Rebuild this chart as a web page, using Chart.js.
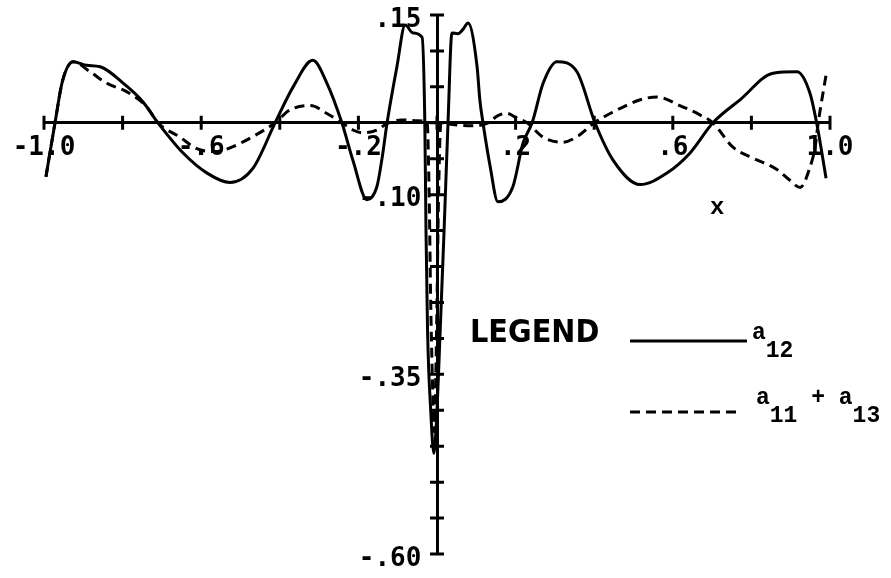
<!DOCTYPE html>
<html>
<head>
<meta charset="utf-8">
<script src="https://cdn.jsdelivr.net/npm/chart.js@4.4.1/dist/chart.umd.min.js"></script>
<style>
  body { margin: 0; background: #fff; }
  #wrap { width: 891px; height: 578px; }
</style>
</head>
<body>
<div id="wrap"><canvas id="coeffChart" width="891" height="578"></canvas></div>
<script>
// a12 curve
const a12X = [-0.995, -0.972, -0.953, -0.926, -0.891, -0.857, -0.794, -0.748, -0.710, -0.646,
  -0.585, -0.527, -0.468, -0.412, -0.366, -0.316, -0.280, -0.242, -0.214, -0.178,
  -0.153, -0.140, -0.127, -0.102, -0.081, -0.061, -0.038, -0.031, -0.028, -0.024,
  -0.016, -0.008, 0.000, 0.008, 0.018, 0.028, 0.038, 0.053, 0.066, 0.079,
  0.102, 0.109, 0.117, 0.135, 0.155, 0.193, 0.219, 0.242, 0.270, 0.305,
  0.356, 0.402, 0.448, 0.517, 0.585, 0.644, 0.702, 0.771, 0.855, 0.916,
  0.949, 0.967, 0.990];
const a12Y = [-0.075, 0.000, 0.058, 0.085, 0.080, 0.078, 0.053, 0.029, 0.000, -0.042,
  -0.070, -0.083, -0.063, 0.000, 0.050, 0.087, 0.055, 0.000, -0.052, -0.107,
  -0.089, -0.050, 0.000, 0.078, 0.136, 0.125, 0.119, 0.000, -0.150, -0.290,
  -0.400, -0.460, -0.400, -0.290, -0.150, 0.000, 0.125, 0.124, 0.130, 0.139,
  0.078, 0.032, 0.000, -0.060, -0.110, -0.089, -0.028, 0.000, 0.055, 0.085,
  0.071, 0.000, -0.052, -0.086, -0.070, -0.042, 0.000, 0.032, 0.069, 0.071,
  0.041, -0.003, -0.077];

// a11 + a13 curve
const sumX = [-0.995, -0.972, -0.953, -0.926, -0.883, -0.840, -0.789, -0.738, -0.710, -0.654,
  -0.611, -0.560, -0.519, -0.468, -0.412, -0.374, -0.323, -0.280, -0.242, -0.214,
  -0.190, -0.153, -0.127, -0.090, -0.050, -0.025, -0.020, -0.016, -0.012, -0.007,
  -0.003, 0.000, 0.004, 0.010, 0.020, 0.050, 0.100, 0.130, 0.155, 0.178,
  0.205, 0.229, 0.270, 0.320, 0.360, 0.400, 0.448, 0.517, 0.560, 0.618,
  0.669, 0.702, 0.753, 0.804, 0.865, 0.898, 0.924, 0.949, 0.962, 0.970,
  0.992];
const sumY = [-0.075, 0.000, 0.058, 0.085, 0.071, 0.055, 0.043, 0.022, 0.000, -0.020,
  -0.036, -0.040, -0.033, -0.019, 0.000, 0.018, 0.024, 0.013, 0.000, -0.010,
  -0.014, -0.010, -0.001, 0.004, 0.003, 0.000, -0.100, -0.250, -0.350, -0.430,
  -0.350, -0.250, -0.100, 0.000, -0.001, -0.003, -0.004, 0.000, 0.010, 0.013,
  0.006, 0.000, -0.020, -0.027, -0.018, 0.000, 0.015, 0.032, 0.036, 0.024,
  0.011, 0.000, -0.034, -0.049, -0.065, -0.080, -0.090, -0.062, -0.034, 0.000,
  0.073];

// axis labels (value -> text); the y ones carry a trailing gap before the axis
const xTickLabels = { "-1": "-1.0", "-0.6": "-.6", "-0.2": "-.2", "0.2": ".2", "0.6": ".6", "1": "1.0" };
const yTickLabels = { "0.15": ".15 ", "-0.1": "-.10 ", "-0.35": "-.35 ", "-0.6": "-.60 " };

// legend text pieces: [text, isSubscript]
const seriesNames = [
  [["a", false], ["12", true]],
  [["a", false], ["11", true], [" + ", false], ["a", false], ["13", true]],
];

const tickFont = { family: "'DejaVu Sans Mono', monospace", size: 26, weight: "bold" };

function toPoints(xs, ys) {
  return xs.map((x, i) => ({ x: x, y: ys[i] }));
}

function labelFor(table, value) {
  const key = String(Math.round(value * 100) / 100);
  return table[key] || "";
}

// axes sit inside the plot, so no extra room for edge labels
function noEdgePadding(scale) {
  scale.paddingTop = 0;
  scale.paddingBottom = 0;
  scale.paddingLeft = 0;
  scale.paddingRight = 0;
}

// short marks that cross each axis at every tick
const crossTicks = {
  id: "crossTicks",
  afterDatasetsDraw(chart) {
    const ctx = chart.ctx;
    const xs = chart.scales.x;
    const ys = chart.scales.y;
    const axisY = ys.getPixelForValue(0);
    const axisX = xs.getPixelForValue(0);
    ctx.save();
    ctx.strokeStyle = "#000";
    ctx.lineWidth = 3;
    ctx.beginPath();
    xs.ticks.forEach((t) => {
      const px = xs.getPixelForValue(t.value);
      ctx.moveTo(px, axisY - 7);
      ctx.lineTo(px, axisY + 7);
    });
    ys.ticks.forEach((t) => {
      const py = ys.getPixelForValue(t.value);
      ctx.moveTo(axisX - 7, py);
      ctx.lineTo(axisX + 7, py);
    });
    ctx.stroke();
    ctx.restore();
  },
};

// hand-lettered legend block and x label
const legendBlock = {
  id: "legendBlock",
  afterDraw(chart) {
    const ctx = chart.ctx;
    const sets = chart.data.datasets;
    ctx.save();
    ctx.fillStyle = "#000";
    ctx.textBaseline = "alphabetic";

    ctx.font = "bold 24px 'Liberation Mono', monospace";
    ctx.fillText("x", 710, 214);

    ctx.font = "bold 32px 'DejaVu Sans Condensed', 'DejaVu Sans', sans-serif";
    ctx.fillText("LEGEND", 470, 342);

    const rows = [
      { y: 341, x1: 747, textX: 752, base: 339, set: sets[0] },
      { y: 412, x1: 742, textX: 756, base: 404, set: sets[1] },
    ];
    rows.forEach((r, i) => {
      ctx.beginPath();
      ctx.lineWidth = r.set.borderWidth;
      ctx.strokeStyle = r.set.borderColor;
      ctx.setLineDash(r.set.borderDash || []);
      ctx.moveTo(630, r.y);
      ctx.lineTo(r.x1, r.y);
      ctx.stroke();
      ctx.setLineDash([]);

      let x = r.textX;
      ctx.font = "bold 23px 'Liberation Mono', monospace";
      seriesNames[i].forEach(([text, sub]) => {
        ctx.fillText(text, x, sub ? r.base + 18 : r.base);
        x += ctx.measureText(text).width;
      });
    });
    ctx.restore();
  },
};

const ctx = document.getElementById("coeffChart").getContext("2d");
const coeffChart = new Chart(ctx, {
  type: "line",
  data: {
    datasets: [
      {
        label: "a12",
        data: toPoints(a12X, a12Y),
        borderColor: "#000",
        borderWidth: 3,
        pointRadius: 0,
        cubicInterpolationMode: "monotone",
        fill: false,
      },
      {
        label: "a11 + a13",
        data: toPoints(sumX, sumY),
        borderColor: "#000",
        borderWidth: 3,
        borderDash: [10, 6],
        pointRadius: 0,
        cubicInterpolationMode: "monotone",
        fill: false,
      },
    ],
  },
  options: {
    responsive: false,
    animation: false,
    layout: { padding: { left: 44, right: 61, top: 15, bottom: 24 } },
    plugins: {
      legend: { display: false },
      tooltip: { enabled: false },
    },
    scales: {
      x: {
        type: "linear",
        position: { y: 0 },
        min: -1,
        max: 1,
        afterFit: noEdgePadding,
        border: { display: true, color: "#000", width: 3 },
        grid: { display: false, drawTicks: false },
        ticks: {
          stepSize: 0.2,
          autoSkip: false,
          maxRotation: 0,
          padding: 10,
          color: "#000",
          font: tickFont,
          callback: (v) => labelFor(xTickLabels, v),
        },
      },
      y: {
        type: "linear",
        position: { x: 0 },
        min: -0.6,
        max: 0.15,
        afterFit: noEdgePadding,
        border: { display: true, color: "#000", width: 3 },
        grid: { display: false, drawTicks: false },
        ticks: {
          stepSize: 0.05,
          autoSkip: false,
          labelOffset: 5,
          color: "#000",
          font: tickFont,
          callback: (v) => labelFor(yTickLabels, v),
        },
      },
    },
  },
  plugins: [crossTicks, legendBlock],
});
</script>
</body>
</html>
